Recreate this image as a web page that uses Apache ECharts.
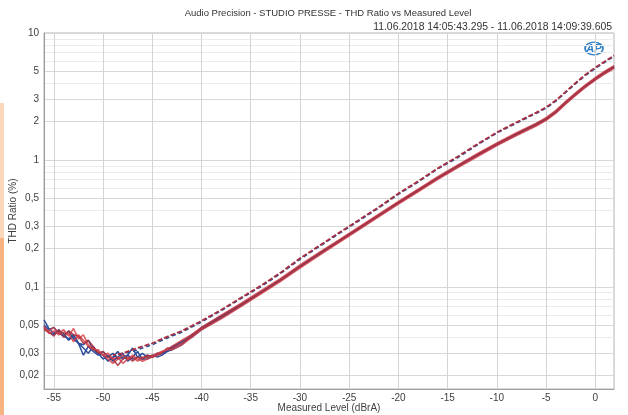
<!DOCTYPE html>
<html>
<head>
<meta charset="utf-8">
<script src="https://cdn.jsdelivr.net/npm/echarts@6/dist/echarts.min.js"></script>
<style>
  html, body { margin: 0; padding: 0; background: #ffffff; }
  #chart { width: 628px; height: 415px; }
</style>
</head>
<body>
<div id="chart"></div>
<script>
// Header and axis texts
const titleText = 'Audio Precision - STUDIO PRESSE - THD Ratio vs Measured Level';
const timeText = '11.06.2018 14:05:43.295 - 11.06.2018 14:09:39.605';
const xName = 'Measured Level (dBrA)';
const yName = 'THD Ratio (%)';

// Axis ticks
const xTicks = [-55, -50, -45, -40, -35, -30, -25, -20, -15, -10, -5, 0];
const yTicks = [0.02, 0.03, 0.05, 0.1, 0.2, 0.3, 0.5, 1, 2, 3, 5, 10];
const yMinorGrid = [0.04, 0.06, 0.07, 0.08, 0.09, 0.4, 0.6, 0.7, 0.8, 0.9, 4, 6, 7, 8, 9];

// Measured level (dBrA) for the noisy low-level part of each sweep
const levelsLow = [-56, -55.5, -55, -54.5, -54, -53.5, -53, -52.5, -52, -51.5, -51, -50.5, -50,
  -49.5, -49, -48.5, -48, -47.5, -47, -46.5, -46, -45.5, -45, -44.5, -44, -43.5];
// Measured level (dBrA) for the upper part of each sweep
const levelsHigh = [-43, -42, -41, -40, -38, -36, -34, -32, -30, -28, -26, -24, -22, -20, -18,
  -16, -14, -12, -10, -8, -6, -5, -4, -3, -2, -1, 0, 1, 1.9];

// THD ratio (%) per sweep, low part
const blue1Low = [0.055, 0.047, 0.043, 0.046, 0.041, 0.039, 0.042, 0.036, 0.035, 0.038, 0.032, 0.030, 0.029,
  0.026, 0.028, 0.031, 0.027, 0.029, 0.033, 0.028, 0.027, 0.029, 0.028, 0.029, 0.030, 0.031];
const blue2Low = [0.050, 0.046, 0.048, 0.043, 0.041, 0.045, 0.039, 0.036, 0.033, 0.030, 0.034, 0.030, 0.027,
  0.029, 0.026, 0.028, 0.030, 0.026, 0.028, 0.031, 0.027, 0.027, 0.029, 0.028, 0.029, 0.031];
const blue3Low = [0.048, 0.044, 0.042, 0.045, 0.043, 0.038, 0.041, 0.036, 0.029, 0.034, 0.031, 0.029, 0.031,
  0.028, 0.030, 0.027, 0.028, 0.029, 0.027, 0.028, 0.030, 0.028, 0.028, 0.030, 0.030, 0.032];
const red1Low = [0.047, 0.045, 0.048, 0.043, 0.046, 0.041, 0.047, 0.039, 0.042, 0.035, 0.033, 0.031, 0.029,
  0.027, 0.025, 0.027, 0.029, 0.027, 0.028, 0.026, 0.028, 0.028, 0.029, 0.030, 0.031, 0.032];
const red2Low = [0.046, 0.044, 0.041, 0.046, 0.040, 0.045, 0.042, 0.041, 0.036, 0.038, 0.034, 0.030, 0.031,
  0.028, 0.027, 0.024, 0.027, 0.028, 0.026, 0.028, 0.027, 0.029, 0.028, 0.029, 0.030, 0.033];
const red3Low = [0.049, 0.043, 0.045, 0.042, 0.044, 0.043, 0.037, 0.042, 0.038, 0.034, 0.032, 0.032, 0.029,
  0.030, 0.027, 0.028, 0.025, 0.027, 0.029, 0.027, 0.026, 0.027, 0.028, 0.029, 0.031, 0.032];

// THD ratio (%) per sweep, upper part
const blue1High = [0.034, 0.037, 0.040, 0.046, 0.057, 0.071, 0.089, 0.112, 0.143, 0.181, 0.228, 0.287, 0.362,
  0.455, 0.570, 0.712, 0.880, 1.08, 1.31, 1.58, 1.88, 2.07, 2.37, 2.79, 3.26, 3.77, 4.30, 4.84, 5.33];
const blue2High = [0.032, 0.035, 0.041, 0.048, 0.059, 0.073, 0.091, 0.114, 0.146, 0.185, 0.232, 0.292, 0.368,
  0.463, 0.580, 0.725, 0.896, 1.10, 1.34, 1.61, 1.92, 2.12, 2.42, 2.86, 3.33, 3.86, 4.40, 4.95, 5.46];
const blue3High = [0.033, 0.037, 0.042, 0.047, 0.058, 0.072, 0.090, 0.113, 0.144, 0.183, 0.230, 0.289, 0.364,
  0.459, 0.574, 0.718, 0.888, 1.09, 1.33, 1.60, 1.90, 2.10, 2.40, 2.83, 3.30, 3.82, 4.35, 4.90, 5.40];
const red1High = [0.034, 0.038, 0.042, 0.048, 0.060, 0.074, 0.093, 0.116, 0.149, 0.188, 0.236, 0.297, 0.374,
  0.471, 0.589, 0.737, 0.911, 1.12, 1.36, 1.64, 1.95, 2.15, 2.46, 2.90, 3.38, 3.91, 4.46, 5.02, 5.53];
const red2High = [0.033, 0.036, 0.041, 0.047, 0.058, 0.072, 0.090, 0.113, 0.145, 0.183, 0.230, 0.290, 0.365,
  0.460, 0.575, 0.720, 0.890, 1.09, 1.33, 1.60, 1.90, 2.10, 2.40, 2.83, 3.30, 3.82, 4.35, 4.90, 5.40];
const red3High = [0.032, 0.035, 0.040, 0.046, 0.056, 0.070, 0.088, 0.110, 0.141, 0.178, 0.224, 0.283, 0.356,
  0.449, 0.561, 0.703, 0.868, 1.06, 1.30, 1.56, 1.85, 2.05, 2.34, 2.76, 3.22, 3.73, 4.25, 4.78, 5.27];

// Dashed sweep pair
const levelsDash = [-49, -48, -47, -46, -45, -44, -43, -42, -40, -38, -36, -34, -32, -30, -28, -26, -24,
  -22, -20, -18, -16, -14, -12, -10, -8, -6, -5, -4, -3, -2, -1, 0, 1, 1.9];
const dashRed = [0.029, 0.030, 0.032, 0.034, 0.036, 0.039, 0.042, 0.045, 0.054, 0.066, 0.082, 0.102, 0.129,
  0.168, 0.212, 0.268, 0.337, 0.425, 0.545, 0.68, 0.86, 1.06, 1.33, 1.65, 1.98, 2.36, 2.6, 2.95, 3.45, 4.05,
  4.7, 5.35, 6.0, 6.65];
const dashBlue = [0.028, 0.030, 0.031, 0.033, 0.035, 0.038, 0.041, 0.044, 0.053, 0.065, 0.081, 0.100, 0.127,
  0.165, 0.209, 0.264, 0.332, 0.419, 0.537, 0.67, 0.85, 1.04, 1.31, 1.63, 1.95, 2.33, 2.56, 2.91, 3.40, 3.99,
  4.63, 5.27, 5.91, 6.55];

const BLUE = '#2b4d9b';
const RED = '#d23a40';
const DARK_RED = '#a8303e';
const FONT = 'Liberation Sans';

function pairs(xs, ys) {
  return xs.map((x, i) => [x, ys[i]]);
}
function sweep(low, high) {
  return pairs(levelsLow, low).concat(pairs(levelsHigh, high));
}
function lineSeries(name, data, lineStyle) {
  return {
    name: name,
    type: 'line',
    data: data,
    symbol: 'none',
    showSymbol: false,
    animation: false,
    silent: true,
    lineStyle: lineStyle,
    emphasis: { disabled: true }
  };
}
function fmt(v) {
  return String(v).replace('.', ',');
}

const chart = echarts.init(document.getElementById('chart'), null, { renderer: 'canvas' });

chart.setOption({
  backgroundColor: '#ffffff',
  animation: false,
  textStyle: { fontFamily: FONT },
  grid: {
    left: 44, right: 14, top: 33, bottom: 26,
    show: true, borderColor: '#b2b2b2', borderWidth: 1,
    containLabel: false,
    outerBoundsMode: 'none'
  },
  xAxis: {
    type: 'value',
    min: -56, max: 1.9,
    axisLine: { show: true, onZero: false, lineStyle: { color: '#a0a0a0', width: 1 } },
    axisTick: { show: false, customValues: xTicks },
    axisLabel: { customValues: xTicks, color: '#404040', fontSize: 10, margin: 4, fontFamily: FONT,
      showMinLabel: true, showMaxLabel: true },
    splitLine: { show: true, lineStyle: { color: '#d4d4d4', width: 1 } }
  },
  yAxis: [{
    type: 'log',
    logBase: 10,
    min: 0.0157, max: 10,
    axisLine: { show: true, onZero: false, lineStyle: { color: '#9a9a9a', width: 1 } },
    axisTick: { show: false, customValues: yTicks },
    axisLabel: { customValues: yTicks, color: '#404040', fontSize: 10, margin: 5, fontFamily: FONT,
      formatter: fmt, showMinLabel: true, showMaxLabel: true },
    splitLine: { show: true, lineStyle: { color: '#d8d8d8', width: 1 } }
  }, {
    type: 'log',
    logBase: 10,
    min: 0.0157, max: 10,
    position: 'left',
    axisLine: { show: false, onZero: false },
    axisTick: { show: false, customValues: yMinorGrid },
    axisLabel: { show: false, customValues: yMinorGrid },
    splitLine: { show: true, lineStyle: { color: '#ececec', width: 1 } }
  }],
  series: [
    lineSeries('Ch1 sweep 1', sweep(blue1Low, blue1High), { color: BLUE, width: 1.5 }),
    lineSeries('Ch1 sweep 2', sweep(blue2Low, blue2High), { color: BLUE, width: 1.5 }),
    lineSeries('Ch1 sweep 3', sweep(blue3Low, blue3High), { color: BLUE, width: 1.5 }),
    lineSeries('Ch1 sweep 4', pairs(levelsDash, dashBlue), { color: BLUE, width: 1.6, type: [4, 3] }),
    lineSeries('Ch2 sweep 1', sweep(red1Low, red1High), { color: RED, width: 1.6, opacity: 0.8 }),
    lineSeries('Ch2 sweep 2', sweep(red2Low, red2High), { color: DARK_RED, width: 1.6, opacity: 0.85 }),
    lineSeries('Ch2 sweep 3', sweep(red3Low, red3High), { color: RED, width: 1.6, opacity: 0.8 }),
    lineSeries('Ch2 sweep 4', pairs(levelsDash, dashRed), { color: DARK_RED, width: 1.8, type: [5, 2], dashOffset: 2 })
  ],
  graphic: [
    { type: 'rect', left: 0, top: 103, shape: { width: 4, height: 135 }, style: { fill: '#fcd8bb' }, silent: true },
    { type: 'rect', left: 0, top: 238, shape: { width: 4, height: 177 }, style: { fill: '#f8b480' }, silent: true },
    { type: 'text', x: 328, y: 13, silent: true,
      style: { text: titleText, fill: '#333333', font: '9.5px "' + FONT + '"', align: 'center', verticalAlign: 'middle' } },
    { type: 'text', x: 612, y: 27, silent: true,
      style: { text: timeText, fill: '#333333', font: '10.4px "' + FONT + '"', align: 'right', verticalAlign: 'middle' } },
    { type: 'text', x: 329, y: 408, silent: true,
      style: { text: xName, fill: '#404040', font: '10px "' + FONT + '"', align: 'center', verticalAlign: 'middle' } },
    { type: 'text', x: 13, y: 211, rotation: Math.PI / 2, silent: true,
      style: { text: yName, fill: '#404040', font: '10px "' + FONT + '"', align: 'center', verticalAlign: 'middle' } },
    { type: 'circle', x: 594, y: 48.5, scaleX: 1.4, silent: true,
      shape: { cx: 0, cy: 0, r: 6.4 }, style: { fill: 'none', stroke: '#2f80c4', lineWidth: 1.3 } },
    { type: 'text', x: 594, y: 48.5, silent: true,
      style: { text: 'AP', fill: '#2f80c4', font: 'italic bold 11px "' + FONT + '"', align: 'center', verticalAlign: 'middle' } }
  ]
});
</script>
</body>
</html>
